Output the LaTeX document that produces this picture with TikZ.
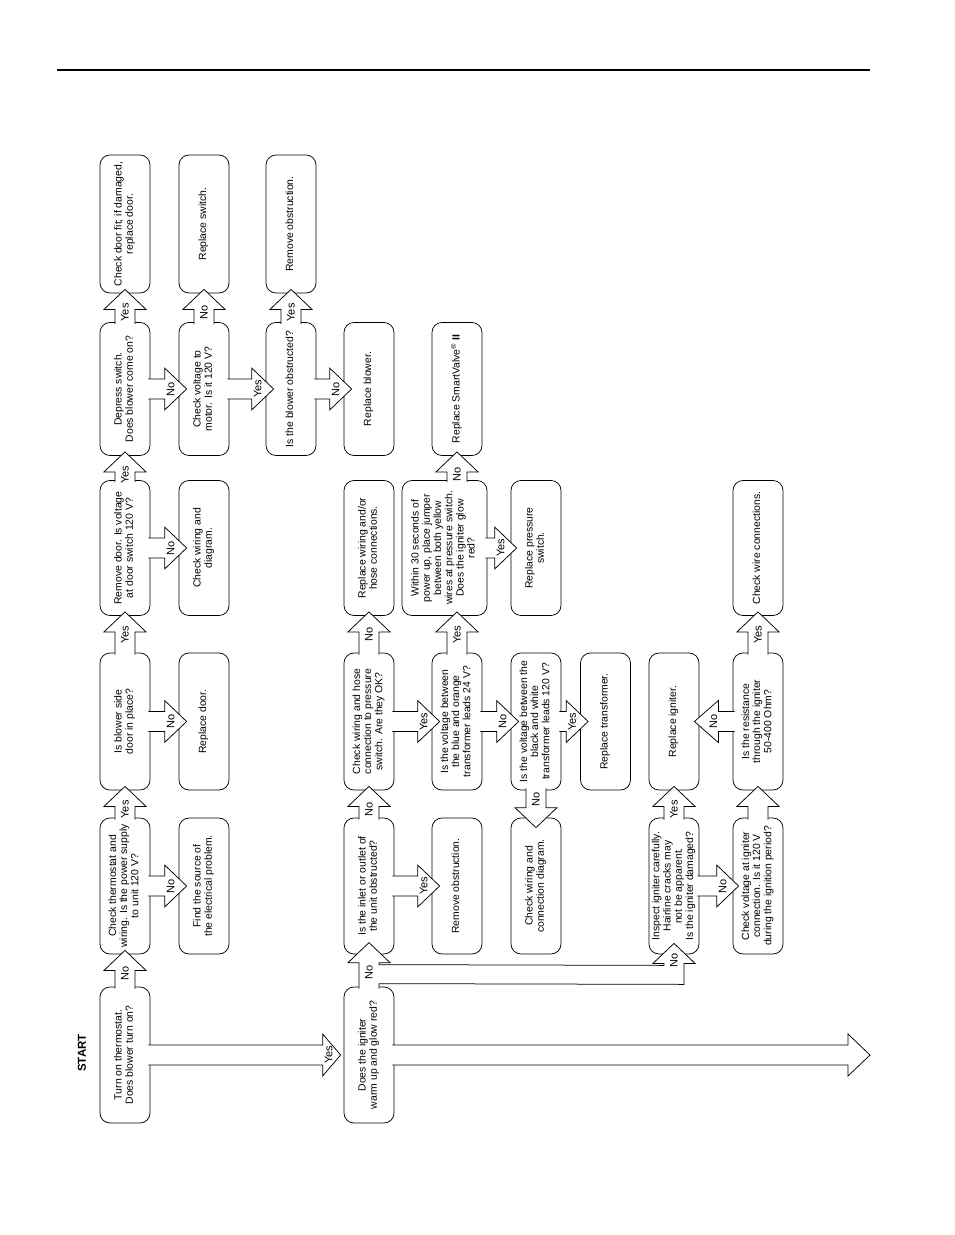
\documentclass[tikz,border=0pt]{standalone}
\usepackage{fontspec}
\setmainfont{Liberation Sans}
\usepackage{graphicx}
\usetikzlibrary{calc}
\newcommand\rtext[1]{\rotatebox{90}{\begin{tabular}{@{}c@{}}#1\end{tabular}}}
% block arrow: tail, tip, head length, label, label shift (toward tip)
\newcommand\barrow[5]{%
  \coordinate (bA) at (#1);
  \coordinate (bB) at (#2);
  \coordinate (bC) at ($(bB)!#3!(bA)$);
  \path[blockarrow] ($(bA)!10pt!90:(bB)$) -- ($(bC)!10pt!90:(bB)$) -- ($(bC)!21pt!90:(bB)$) -- (bB) -- ($(bC)!21pt!-90:(bB)$) -- ($(bC)!10pt!-90:(bB)$) -- ($(bA)!10pt!-90:(bB)$);
  \node[lbl] at ($(bC)!#5!(bB)$) {#4};
}
\tikzset{
  box/.style={draw, line width=0.75pt, rounded corners=10pt, minimum width=50pt, inner sep=0pt, font=\fontsize{10.4}{11.2}\selectfont},
  blockarrow/.style={draw, fill=white, line width=0.75pt, line join=miter},
  lbl/.style={rotate=90, font=\fontsize{11}{12}\selectfont, inner sep=0pt},
}
\begin{document}
\begin{tikzpicture}[x=1pt,y=-1pt]
\useasboundingbox (0,0) rectangle (954,1235);
\fill[white] (0,0) rectangle (954,1235);
\draw[line width=2.6pt] (57,70) -- (870,70);
\node[rotate=90, font=\bfseries\fontsize{11.5}{12}\selectfont] (start) at (82,1053) {START};

% column 1
\node[box, minimum height=136pt] (b1) at (125,1055) {\rtext{Turn on thermostat.\\Does blower turn on?}};
\node[box, minimum height=136pt] (b2) at (125,886) {\rtext{Check thermostat and\\wiring. Is the power supply\\to unit 120 V?}};
\node[box, minimum height=137pt] (b3) at (125,721.5) {\rtext{Is blower side\\door in place?}};
\node[box, minimum height=135pt] (b4) at (125,548) {\rtext{Remove door. Is voltage\\at door switch 120 V?}};
\node[box, minimum height=133pt] (b5) at (125,389) {\rtext{Depress switch.\\Does blower come on?}};
\node[box, minimum height=138pt] (b6) at (125,224) {\rtext{Check door fit; if damaged,\\replace door.}};
% column 2
\node[box, minimum height=136pt] (b7) at (204,886) {\rtext{Find the source of\\the electrical problem.}};
\node[box, minimum height=137pt] (b8) at (204,721.5) {\rtext{Replace door.}};
\node[box, minimum height=135pt] (b9) at (204,548) {\rtext{Check wiring and\\diagram.}};
\node[box, minimum height=133pt] (b10) at (204,389) {\rtext{Check voltage to\\motor. Is it 120 V?}};
\node[box, minimum height=138pt] (b11) at (204,224) {\rtext{Replace switch.}};
% column 3
\node[box, minimum height=133pt] (b12) at (291,389) {\rtext{Is the blower obstructed?}};
\node[box, minimum height=138pt] (b13) at (291,224) {\rtext{Remove obstruction.}};
% column 4
\node[box, minimum height=133pt] (b14) at (369,389) {\rtext{Replace blower.}};
\node[box, minimum height=135pt] (b15) at (369,548) {\rtext{Replace wiring and/or\\hose connections.}};
\node[box, minimum height=137pt] (b16) at (369,721.5) {\rtext{Check wiring and hose\\connection to pressure\\switch. Are they OK?}};
\node[box, minimum height=136pt] (b17) at (369,886) {\rtext{Is the inlet or outlet of\\the unit obstructed?}};
\node[box, minimum height=136pt] (b18) at (369,1055) {\rtext{Does the igniter\\warm up and glow red?}};
% column 5
\node[box, minimum height=133pt] (b19) at (457,389) {\rtext{Replace SmartValve\textsuperscript{®} \textbf{II}}};
\node[box, minimum height=135pt, minimum width=85pt] (b20) at (444.5,548) {\rtext{Within 30 seconds of\\power up, place jumper\\between both yellow\\wires at pressure switch.\\Does the igniter glow\\red?}};
\node[box, minimum height=137pt] (b21) at (457,721.5) {\rtext{Is the voltage between\\the blue and orange\\transformer leads 24 V?}};
\node[box, minimum height=136pt] (b22) at (457,886) {\rtext{Remove obstruction.}};
% column 6
\node[box, minimum height=135pt] (b23) at (536,548) {\rtext{Replace pressure\\switch.}};
\node[box, minimum height=137pt] (b24) at (536,721.5) {\rtext{Is the voltage between the\\black and white\\transformer leads 120 V?}};
\node[box, minimum height=136pt] (b25) at (536,886) {\rtext{Check wiring and\\connection diagram.}};
% column 7
\node[box, minimum height=137pt] (b26) at (605.5,721.5) {\rtext{Replace transformer.}};
% column 8
\node[box, minimum height=137pt] (b27) at (674,721.5) {\rtext{Replace igniter.}};
\node[box, minimum height=136pt] (b28) at (674,886) {\rtext{Inspect igniter carefully.\\Hairline cracks may\\not be apparent.\\Is the igniter damaged?}};
% column 9
\node[box, minimum height=135pt] (b29) at (758,548) {\rtext{Check wire connections.}};
\node[box, minimum height=137pt] (b30) at (758,721.5) {\rtext{Is the resistance\\through the igniter\\50-400 Ohm?}};
\node[box, minimum height=136pt] (b31) at (758,886) {\rtext{Check voltage at igniter\\connection. Is it 120 V\\during the ignition period?}};

\coordinate (endpt) at (870,1055);

% upward arrows
\barrow{$(b1.north)+(0,2)$}{$(b2.south)+(0,-4)$}{20pt}{No}{-3pt}
\barrow{$(b2.north)+(0,2)$}{$(b3.south)+(0,-4)$}{20pt}{Yes}{-3pt}
\barrow{$(b3.north)+(0,2)$}{$(b4.south)+(0,-4)$}{20pt}{Yes}{-3pt}
\barrow{$(b4.north)+(0,2)$}{$(b5.south)+(0,-4)$}{20pt}{Yes}{-3pt}
\barrow{$(b5.north)+(0,2)$}{$(b6.south)+(0,-4)$}{20pt}{Yes}{-3pt}
\barrow{$(b10.north)+(0,2)$}{$(b11.south)+(0,-4)$}{20pt}{No}{-3pt}
\barrow{$(b12.north)+(0,2)$}{$(b13.south)+(0,-4)$}{20pt}{Yes}{-3pt}
\barrow{$(b17.north)+(0,2)$}{$(b16.south)+(0,-4)$}{20pt}{No}{-3pt}
\barrow{$(b16.north)+(0,2)$}{$(b15.south)+(0,-4)$}{20pt}{No}{-3pt}
\barrow{$(b21.north)+(0,2)$}{$(b21|-b20.south)+(0,-4)$}{20pt}{Yes}{-3pt}
\barrow{$(b19|-b20.north)+(0,2)$}{$(b19.south)+(0,-4)$}{20pt}{No}{-3pt}
\barrow{$(b31.north)+(0,2)$}{$(b30.south)+(0,-4)$}{20pt}{}{-3pt}
\barrow{$(b30.north)+(0,2)$}{$(b29.south)+(0,-4)$}{20pt}{Yes}{-3pt}
\barrow{$(b28.north)+(0,2)$}{$(b27.south)+(0,-4)$}{20pt}{Yes}{-3pt}

% rightward arrows
\barrow{$(b2.east)+(-2,0)$}{$(b7.west)+(8,0)$}{22pt}{No}{6pt}
\barrow{$(b3.east)+(-2,0)$}{$(b8.west)+(8,0)$}{22pt}{No}{6pt}
\barrow{$(b4.east)+(-2,0)$}{$(b9.west)+(8,0)$}{22pt}{No}{6pt}
\barrow{$(b5.east)+(-2,0)$}{$(b10.west)+(8,0)$}{22pt}{No}{6pt}
\barrow{$(b10.east)+(-2,0)$}{$(b12.west)+(8,0)$}{22pt}{Yes}{6pt}
\barrow{$(b12.east)+(-2,0)$}{$(b14.west)+(8,0)$}{22pt}{No}{6pt}
\barrow{$(b17.east)+(-2,0)$}{$(b22.west)+(8,0)$}{22pt}{Yes}{6pt}
\barrow{$(b16.east)+(-2,0)$}{$(b21.west)+(8,0)$}{22pt}{Yes}{6pt}
\barrow{$(b21.east)+(-2,0)$}{$(b24.west)+(8,0)$}{22pt}{No}{6pt}
\barrow{$(b24.east)+(-2,0)$}{$(b26.west)+(8,0)$}{22pt}{Yes}{6pt}
\barrow{$(b20.east)+(-2,0)$}{$(b23.west)+(6,0)$}{22pt}{Yes}{6pt}
\barrow{$(b28.east)+(-2,0)$}{$(b31.west)+(6,0)$}{22pt}{No}{6pt}
\barrow{$(b1.east)+(-2,0)$}{$(b18.west)+(-3,0)$}{18pt}{Yes}{6pt}
\barrow{$(b18.east)+(-2,0)$}{endpt}{22pt}{}{6pt}
% leftward
\barrow{$(b30.west)+(2,0)$}{$(b27.east)+(-5,0)$}{24pt}{No}{5pt}
% downward
\barrow{$(b24.south)+(0,-2)$}{$(b25.north)+(0,10)$}{20pt}{No}{-8pt}

% branched arrow from b18 to b17 and b28
\path[blockarrow] ($(b18.north)+(-10,2)$) -- ($(b18.north)+(-10,-24)$) -- ($(b18.north)+(-21,-24)$) -- ($(b18.north)+(0,-44)$) -- ($(b18.north)+(21,-24)$) -- ($(b18.north)+(10,-24)$) -- ($(b18.north)+(10,-22)$) -- ($(b28.south)+(-10,11)$) -- ($(b28.south)+(-10,9)$) -- ($(b28.south)+(-21,9)$) -- ($(b28.south)+(0,-11)$) -- ($(b28.south)+(21,9)$) -- ($(b28.south)+(10,9)$) -- ($(b28.south)+(10,30)$) -- ($(b18.north)+(10,-3)$) -- ($(b18.north)+(10,2)$);
\node[lbl] at ($(b18.north)+(0,-14)$) {No};
\node[lbl] at ($(b28.south)+(0,6)$) {No};
\end{tikzpicture}
\end{document}
